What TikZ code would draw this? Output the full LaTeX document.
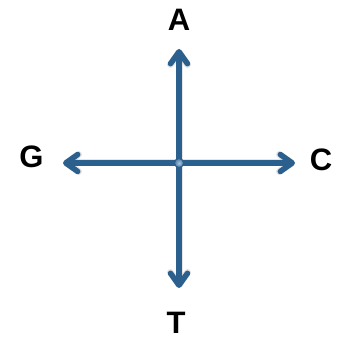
\documentclass[tikz,border=0pt]{standalone}
\usepackage{fontspec}
\setmainfont{Liberation Sans}
\usetikzlibrary{arrows.meta}
\definecolor{axisblue}{HTML}{2B5F8E}
\definecolor{dotblue}{HTML}{6F9CC8}
\begin{document}
\begin{tikzpicture}[x=1pt,y=1pt,
  axis/.style={draw=axisblue,line width=5.5pt,-{Straight Barb[length=12pt,width=17pt,round]}},
  shadowline/.style={draw=black,opacity=0.10,line width=7pt,-{Straight Barb[length=12pt,width=17pt,round]}},
  lbl/.style={font=\fontsize{31}{31}\selectfont\bfseries,text=black,inner sep=0pt}]
\useasboundingbox (0,0) rectangle (347,344);
\coordinate (O) at (179,181);
\coordinate (Atip) at (179,295);
\coordinate (Ttip) at (179,56);
\coordinate (Gtip) at (63,181);
\coordinate (Ctip) at (295,181);
\begin{scope}[shift={(2,-4)}]
\draw[shadowline] (O) -- (Atip);
\draw[shadowline] (O) -- (Ttip);
\draw[shadowline] (O) -- (Gtip);
\draw[shadowline] (O) -- (Ctip);
\end{scope}
\draw[axis] (O) -- (Atip);
\draw[axis] (O) -- (Ttip);
\draw[axis] (O) -- (Gtip);
\draw[axis] (O) -- (Ctip);
\node[circle,inner sep=0pt,minimum size=9pt,draw=axisblue,line width=1pt,inner color=dotblue!60!white,outer color=axisblue!80] (dot) at (O) {};
\node[lbl] (A) at (179,324) {A};
\node[lbl] (G) at (31.5,187) {G};
\node[lbl] (C) at (321,184) {C};
\node[lbl] (T) at (176,21) {T};
\end{tikzpicture}
\end{document}
